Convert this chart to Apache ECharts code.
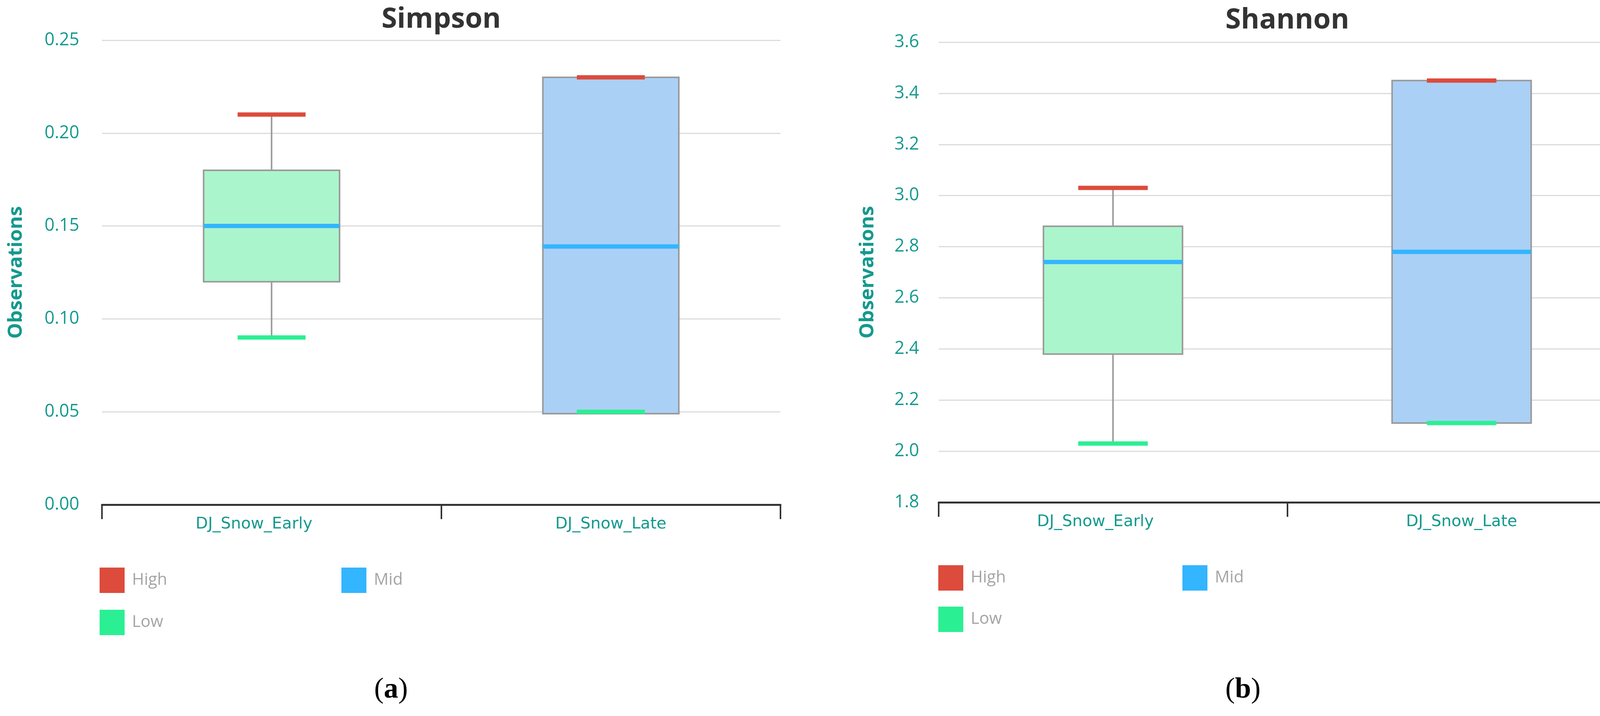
<!DOCTYPE html>
<html>
<head>
<meta charset="utf-8">
<script src="https://cdn.jsdelivr.net/npm/echarts@6/dist/echarts.min.js"></script>
<style>
html,body{margin:0;padding:0;background:#fff;}
#chart{width:4222px;height:1833px;}
</style>
</head>
<body>
<div id="chart"></div>
<script>
// ---- data ----
const categories = ['DJ_Snow_Early', 'DJ_Snow_Late'];
const seriesNames = ['High', 'Mid', 'Low'];

const simpsonLow  = [0.09, 0.05];
const simpsonQ1   = [0.12, 0.049];
const simpsonMid  = [0.15, 0.139];
const simpsonQ3   = [0.18, 0.23];
const simpsonHigh = [0.21, 0.23];

const shannonLow  = [2.03, 2.11];
const shannonQ1   = [2.38, 2.11];
const shannonMid  = [2.74, 2.78];
const shannonQ3   = [2.88, 3.45];
const shannonHigh = [3.03, 3.45];

const simpsonTicks = [0, 0.25, 0.05];
const shannonTicks = [1.8, 3.6, 0.2];

// ---- style ----
const TEAL = '#14998e';
const LABEL_FONT = 'Open Sans';
const MARK_H = 11;
const boxFills = ['#abf5cc', '#abd0f5'];
const markColors = {High: '#dc4b3c', Mid: '#33b5ff', Low: '#2bef93'};
const G = [
  {left: 261, top: 103, width: 1737, height: 1189, boxW: 348},
  {left: 2403, top: 108, width: 1785, height: 1178, boxW: 356}
];

function boxSeries(idx, low, q1, q3, high) {
  const BOX_W = G[idx].boxW;
  return {
    type: 'custom', xAxisIndex: idx, yAxisIndex: idx, z: 2,
    encode: {x: 0, y: [1, 2, 3, 4]},
    data: categories.map((c, i) => [i, low[i], q1[i], q3[i], high[i]]),
    renderItem: function (params, api) {
      const i = api.value(0);
      const pLow = api.coord([i, api.value(1)]);
      const pQ1 = api.coord([i, api.value(2)]);
      const pQ3 = api.coord([i, api.value(3)]);
      const pHigh = api.coord([i, api.value(4)]);
      const x = pLow[0];
      const ls = {stroke: '#9a9a9a', lineWidth: 4};
      return {type: 'group', children: [
        {type: 'line', shape: {x1: x, y1: pHigh[1], x2: x, y2: pQ3[1]}, style: ls},
        {type: 'line', shape: {x1: x, y1: pQ1[1], x2: x, y2: pLow[1]}, style: ls},
        {type: 'rect', shape: {x: x - BOX_W / 2, y: pQ3[1], width: BOX_W, height: pQ1[1] - pQ3[1]},
         style: {fill: boxFills[i], stroke: '#9a9a9a', lineWidth: 4}}
      ]};
    }
  };
}
function markSeries(idx, name, vals, full) {
  const w = full ? G[idx].boxW : Math.round(G[idx].boxW / 2);
  return {
    type: 'scatter', name: name, xAxisIndex: idx, yAxisIndex: idx, z: 5,
    symbol: 'rect', symbolSize: [w, MARK_H],
    itemStyle: {color: markColors[name], opacity: 1},
    data: categories.map((c, i) => [i, vals[i]]),
    silent: true
  };
}

function xAxis(idx) {
  return {
    type: 'category', gridIndex: idx, data: categories,
    axisLine: {lineStyle: {color: '#333', width: 5}},
    axisTick: {show: true, length: 37, lineStyle: {color: '#333', width: 4}},
    axisLabel: {
      color: TEAL, fontSize: 41, margin: 30, fontFamily: 'DejaVu Sans',
      formatter: (v, i) => i === 0 ? '{s|' + v + '}' : v,
      rich: {s: {color: TEAL, fontSize: 41, fontFamily: 'DejaVu Sans', padding: [0, 90, 0, 0]}}
    },
    splitLine: {show: false}
  };
}
function yAxis(idx, t, digits, gap, margin) {
  return {
    type: 'value', gridIndex: idx, min: t[0], max: t[1], interval: t[2],
    axisLine: {show: false}, axisTick: {show: false},
    axisLabel: {color: TEAL, fontSize: 45, margin: margin, fontFamily: LABEL_FONT,
      formatter: v => Number(v).toFixed(digits)},
    splitLine: {lineStyle: {color: '#dcdcdc', width: 3}},
    name: 'Observations', nameLocation: 'middle', nameGap: gap,
    nameTextStyle: {color: TEAL, fontWeight: 'bold', fontSize: 51, fontFamily: LABEL_FONT}
  };
}
function legend(name, left, top) {
  return {
    data: [name], left: left, top: top, padding: 0,
    itemWidth: 64, itemHeight: 65, icon: 'rect', selectedMode: false,
    textStyle: {color: '#a4a4a4', fontSize: 42, fontFamily: LABEL_FONT, padding: [0, 0, 0, 14]}
  };
}

const titleStyle = {fontFamily: LABEL_FONT, fontWeight: 'bold', fontSize: 72, color: '#333'};
const capStyle = {fontFamily: 'Liberation Serif', fontSize: 74, fontWeight: 'normal', color: '#000',
  rich: {
    n: {fontFamily: 'Liberation Serif', fontSize: 74, fontWeight: 'normal', color: '#000'},
    b: {fontFamily: 'Liberation Serif', fontSize: 74, fontWeight: 'bold', color: '#000'}
  }};

const option = {
  backgroundColor: '#fff',
  animation: false,
  title: [
    {text: 'Simpson', left: G[0].left + G[0].width / 2, top: 14, textAlign: 'center', padding: 0, textStyle: titleStyle},
    {text: 'Shannon', left: G[1].left + G[1].width / 2, top: 16, textAlign: 'center', padding: 0, textStyle: titleStyle},
    {text: '{n|(}{b|a}{n|)}', left: 1001, top: 1730, textAlign: 'center', padding: 0, textStyle: capStyle},
    {text: '{n|(}{b|b}{n|)}', left: 3182, top: 1730, textAlign: 'center', padding: 0, textStyle: capStyle}
  ],
  grid: G.map(g => ({left: g.left, top: g.top, width: g.width, height: g.height})),
  xAxis: [xAxis(0), xAxis(1)],
  yAxis: [yAxis(0, simpsonTicks, 2, 194, 58), yAxis(1, shannonTicks, 1, 156, 50)],
  legend: [
    legend('High', 255, 1453), legend('Mid', 874, 1453), legend('Low', 255, 1561),
    legend('High', 2402, 1447), legend('Mid', 3027, 1447), legend('Low', 2402, 1553)
  ],
  series: [
    boxSeries(0, simpsonLow, simpsonQ1, simpsonQ3, simpsonHigh),
    markSeries(0, 'High', simpsonHigh, false),
    markSeries(0, 'Mid', simpsonMid, true),
    markSeries(0, 'Low', simpsonLow, false),
    boxSeries(1, shannonLow, shannonQ1, shannonQ3, shannonHigh),
    markSeries(1, 'High', shannonHigh, false),
    markSeries(1, 'Mid', shannonMid, true),
    markSeries(1, 'Low', shannonLow, false)
  ]
};

const chart = echarts.init(document.getElementById('chart'), null, {renderer: 'canvas'});
chart.setOption(option);
</script>
</body>
</html>
